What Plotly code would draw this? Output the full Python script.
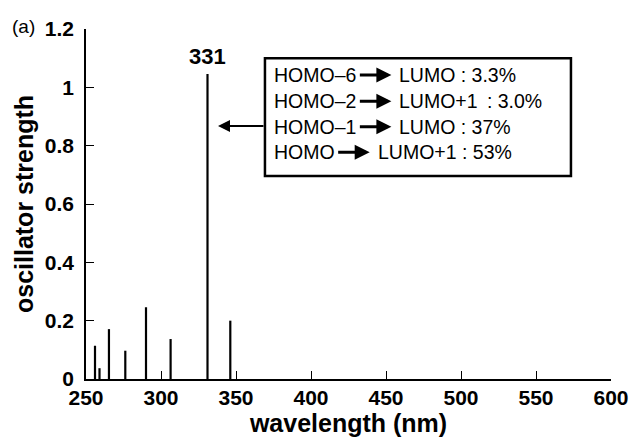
import plotly.graph_objects as go

wavelengths = [256, 259, 265.3, 276.2, 290, 306.4, 331, 346.2]
strengths = [0.114, 0.037, 0.171, 0.097, 0.246, 0.137, 1.046, 0.200]
peak_label = "331"
trans_from = ["HOMO–6", "HOMO–2", "HOMO–1", "HOMO"]
trans_to = ["LUMO : 3.3%", "LUMO+1 \u2009: 3.0%", "LUMO : 37%", "LUMO+1 : 53%"]
x_ticks = [250, 300, 350, 400, 450, 500, 550, 600]
y_ticks = [0, 0.2, 0.4, 0.6, 0.8, 1, 1.2]
y_ticktext = ["0", "0.2", "0.4", "0.6", "0.8", "1", "1.2"]

FONT = "Liberation Sans, Arial, Helvetica, sans-serif"
BOX_FS = 19.5

# Arial/Helvetica advance widths (em) for width estimation of text pieces
_W = {"H": .722, "O": .778, "M": .833, "–": .556, "L": .556, "U": .722, "+": .584,
      " ": .278, ":": .278, ".": .278, "%": .889}
def text_width(s, fs):
    return sum(_W.get(c, .556) for c in s) * fs

xs, ys = [], []
for w, s in zip(wavelengths, strengths):
    xs += [w, w, None]
    ys += [0, s, None]

fig = go.Figure()
fig.add_trace(go.Scatter(x=xs, y=ys, mode="lines",
                         line=dict(color="black", width=2.2), showlegend=False,
                         hoverinfo="skip"))

fig.update_layout(
    width=631, height=437,
    margin=dict(l=86, r=20, t=29, b=58),
    paper_bgcolor="white", plot_bgcolor="white",
    font=dict(family=FONT, color="black"),
    xaxis=dict(range=[250, 600], tickvals=x_ticks, ticks="inside", ticklen=8,
               tickwidth=1.2, tickcolor="black", showline=True, linecolor="black",
               linewidth=1.5, showgrid=False, zeroline=False, automargin=False,
               tickfont=dict(size=21, family=FONT, weight="bold"),
               ticklabelstandoff=-1,
               title=dict(text="<b>wavelength (nm)</b>", font=dict(size=25), standoff=0)),
    yaxis=dict(range=[0, 1.2], tickvals=y_ticks, ticktext=y_ticktext, ticks="inside",
               ticklen=8, tickwidth=1.2, tickcolor="black", showline=True,
               linecolor="black", linewidth=1.5, showgrid=False, zeroline=False,
               automargin=False,
               tickfont=dict(size=21, family=FONT, weight="bold"),
               ticklabelstandoff=6,
               title=dict(text="<b>oscillator strength</b>", font=dict(size=25), standoff=4)),
)

# box around transitions
fig.add_shape(type="rect", xref="x", yref="y", x0=369.3, x1=573.3, y0=0.696, y1=1.100,
              line=dict(color="black", width=2.5), fillcolor="white")

line_y = [1.042, 0.952, 0.865, 0.777]
text_x = 374
for a, b, yy in zip(trans_from, trans_to, line_y):
    wl = text_width(a, BOX_FS)
    head = wl + 4 + 33
    fig.add_annotation(x=text_x, y=yy, xref="x", yref="y", text=a, showarrow=False,
                       xanchor="left", yanchor="middle",
                       font=dict(size=BOX_FS, family=FONT, color="black"))
    fig.add_annotation(x=text_x, y=yy, xref="x", yref="y", text="", showarrow=True,
                       xshift=head, ax=-33, ay=0, arrowhead=2, arrowsize=1.0,
                       arrowwidth=3, arrowcolor="black", standoff=0, startstandoff=0)
    fig.add_annotation(x=text_x, y=yy, xref="x", yref="y", text=b, showarrow=False,
                       xanchor="left", yanchor="middle", xshift=head + 6,
                       font=dict(size=BOX_FS, family=FONT, color="black"))

# arrow from box to peak
fig.add_annotation(x=338, y=0.867, ax=369.3, ay=0.867, xref="x", yref="y",
                   axref="x", ayref="y", text="", showarrow=True, arrowhead=2,
                   arrowsize=1.2, arrowwidth=2, arrowcolor="black")

# peak label
fig.add_annotation(x=wavelengths[6], y=strengths[6], xref="x", yref="y",
                   text="<b>" + peak_label + "</b>", showarrow=False,
                   yanchor="bottom", yshift=3, font=dict(size=22, family=FONT))

# panel label
fig.add_annotation(x=-0.119, y=1.2, xref="paper", yref="y", text="(a)", showarrow=False,
                   xanchor="center", yanchor="middle", yshift=3,
                   font=dict(size=19, family=FONT))

fig.write_html("out.html")
